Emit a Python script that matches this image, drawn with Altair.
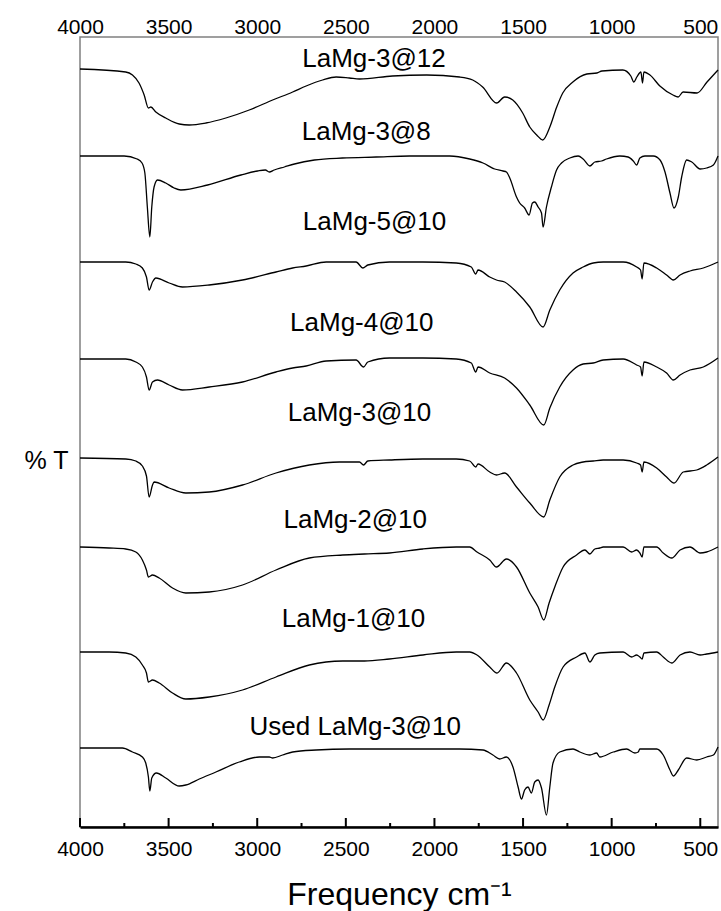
import altair as alt
import pandas as pd

FONT = "Liberation Sans"

# Sample names, top to bottom
sample_names = [
    "LaMg-3@12", "LaMg-3@8", "LaMg-5@10", "LaMg-4@10",
    "LaMg-3@10", "LaMg-2@10", "LaMg-1@10", "Used LaMg-3@10",
]

# Stacked FTIR spectra: wavenumber (cm-1) and transmittance (offset, a.u.)
wn_3_12 = [4000, 3742, 3704, 3667, 3638, 3614, 3600, 3572, 3516, 3440, 3384, 3290, 3177, 3045, 2913,
           2800, 2724, 2631, 2555, 2480, 2423, 2237, 2044, 1858, 1784, 1728, 1649, 1604, 1558, 1502,
           1462, 1423, 1389, 1349, 1310, 1276, 1219, 1140, 1083, 1055, 937, 892, 875, 858, 835,
           826, 818, 784, 728, 654, 625, 597, 518, 462, 400]
t_3_12 = [758, 755, 752, 744, 732, 719, 720, 715, 709, 703, 702, 704, 709, 717, 727,
          735, 741, 747, 750, 749, 748, 751, 752, 750, 747, 740, 724, 730, 727, 714,
          700, 692, 687, 700, 720, 734, 745, 753, 754, 756, 757, 751, 745, 750, 755,
          744, 755, 752, 741, 732, 730, 735, 734, 745, 757]

wn_3_8 = [4000, 3751, 3678, 3650, 3634, 3620, 3606, 3595, 3582, 3563, 3516, 3469, 3431, 3280, 3092,
          2998, 2954, 2932, 2904, 2847, 2790, 2677, 2519, 2329, 2140, 1914, 1801, 1726, 1660, 1613,
          1594, 1575, 1537, 1519, 1491, 1466, 1447, 1434, 1415, 1396, 1387, 1368, 1340, 1311, 1283,
          1236, 1189, 1161, 1123, 1095, 1057, 1029, 954, 907, 878, 859, 841, 812, 765, 727,
          699, 671, 648, 624, 605, 577, 548, 501, 464, 426, 400]
t_3_8 = [671, 671, 668, 664, 654, 620, 590, 620, 640, 647, 644, 639, 637, 642, 652,
         656, 657, 655, 657, 660, 663, 667, 669, 670, 671, 671, 668, 664, 658, 656,
         655, 649, 630, 624, 619, 612, 624, 625, 620, 614, 600, 620, 640, 657, 664,
         669, 671, 668, 661, 665, 666, 668, 671, 670, 666, 662, 669, 671, 671, 667,
         655, 634, 619, 630, 650, 667, 665, 658, 659, 662, 671]

wn_5_10 = [4000, 3742, 3685, 3648, 3625, 3610, 3591, 3572, 3497, 3422, 3271, 3083, 2894, 2800, 2724,
           2611, 2442, 2404, 2376, 2254, 2065, 1877, 1792, 1767, 1754, 1688, 1650, 1604, 1537, 1462,
           1387, 1349, 1293, 1218, 1161, 1104, 1048, 935, 859, 837, 828, 818, 746, 690, 652,
           614, 558, 483, 400]
t_5_10 = [565, 565, 563, 559, 550, 537, 545, 549, 544, 540, 542, 547, 555, 559, 561,
          565, 565, 559, 562, 565, 565, 564, 560, 553, 557, 550, 547, 545, 535, 520,
          500, 517, 537, 554, 560, 564, 565, 565, 560, 557, 548, 564, 559, 552, 547,
          552, 556, 559, 565]

wn_4_10 = [4000, 3742, 3685, 3648, 3625, 3610, 3591, 3563, 3497, 3422, 3271, 3083, 2894, 2800, 2724,
           2611, 2442, 2400, 2376, 2254, 2065, 1877, 1792, 1767, 1754, 1688, 1604, 1537, 1462, 1383,
           1349, 1293, 1218, 1161, 1104, 1048, 935, 859, 837, 828, 818, 746, 690, 652, 614,
           558, 483, 400]
t_4_10 = [468, 468, 465, 460, 450, 437, 445, 447, 442, 437, 440, 445, 455, 459, 461,
          466, 467, 460, 465, 469, 469, 468, 464, 455, 460, 454, 449, 439, 422, 402,
          419, 440, 457, 463, 464, 467, 468, 462, 460, 451, 465, 460, 454, 447, 452,
          457, 460, 469]

wn_3_10 = [4000, 3742, 3685, 3648, 3625, 3610, 3591, 3582, 3497, 3403, 3271, 3083, 2894, 2706, 2536,
           2423, 2400, 2376, 2254, 2065, 1877, 1801, 1767, 1754, 1688, 1650, 1604, 1537, 1462, 1383,
           1349, 1293, 1218, 1161, 1104, 1048, 935, 859, 837, 828, 818, 746, 690, 648, 596,
           520, 464, 400]
t_3_10 = [369, 368, 366, 361, 351, 330, 342, 345, 339, 334, 335, 342, 354, 362, 365,
          365, 362, 366, 367, 368, 368, 366, 360, 363, 355, 352, 354, 340, 324, 310,
          327, 350, 362, 365, 366, 367, 367, 364, 362, 355, 365, 359, 350, 344, 355,
          357, 362, 370]

wn_2_10 = [4000, 3836, 3742, 3685, 3648, 3625, 3614, 3591, 3553, 3478, 3403, 3271, 3083, 2894, 2706,
           2517, 2395, 2254, 2065, 1877, 1801, 1760, 1688, 1650, 1594, 1537, 1462, 1415, 1383, 1353,
           1321, 1274, 1198, 1151, 1123, 1095, 1067, 1048, 935, 887, 859, 841, 828, 818, 746,
           709, 661, 614, 558, 501, 464, 400]
t_2_10 = [280, 279, 278, 275, 267, 257, 250, 252, 249, 239, 234, 235, 242, 257, 269,
          272, 273, 274, 278, 280, 280, 275, 267, 260, 268, 260, 234, 220, 207, 224,
          240, 260, 272, 277, 273, 278, 279, 280, 280, 275, 277, 274, 270, 280, 280,
          274, 269, 277, 280, 274, 275, 280]

wn_1_10 = [4000, 3836, 3742, 3685, 3648, 3625, 3614, 3591, 3553, 3478, 3403, 3271, 3083, 2894, 2706,
           2517, 2395, 2254, 2065, 1877, 1801, 1760, 1688, 1647, 1594, 1537, 1462, 1415, 1387, 1353,
           1321, 1274, 1198, 1151, 1123, 1095, 1067, 935, 887, 859, 841, 828, 818, 746, 709,
           661, 614, 558, 501, 464, 400]
t_1_10 = [175, 175, 174, 170, 162, 154, 145, 147, 144, 134, 128, 130, 137, 150, 162,
          166, 166, 168, 172, 175, 175, 172, 160, 154, 164, 154, 127, 115, 107, 122,
          140, 160, 170, 174, 165, 172, 174, 175, 170, 172, 170, 168, 174, 175, 170,
          164, 172, 175, 172, 173, 175]

wn_used = [4000, 3761, 3704, 3648, 3629, 3614, 3606, 3595, 3569, 3516, 3440, 3403, 3327, 3233, 3101,
           2988, 2932, 2913, 2857, 2800, 2668, 2480, 2235, 2046, 1858, 1726, 1670, 1632, 1594, 1557,
           1528, 1509, 1491, 1472, 1453, 1434, 1415, 1396, 1368, 1349, 1331, 1293, 1218, 1180, 1123,
           1085, 1067, 991, 916, 869, 850, 841, 746, 709, 671, 652, 624, 577, 520, 464,
           426, 400]
t_used = [79, 79, 75, 70, 64, 50, 36, 49, 54, 49, 41, 42, 48, 55, 65,
          70, 70, 69, 72, 75, 77, 78, 78, 78, 78, 77, 72, 68, 70, 60,
          40, 28, 37, 40, 34, 45, 47, 39, 12, 40, 64, 75, 78, 75, 72,
          74, 70, 75, 78, 74, 75, 78, 78, 72, 57, 51, 57, 69, 67, 70,
          72, 80]

spectra_wn = [wn_3_12, wn_3_8, wn_5_10, wn_4_10, wn_3_10, wn_2_10, wn_1_10, wn_used]
spectra_t = [t_3_12, t_3_8, t_5_10, t_4_10, t_3_10, t_2_10, t_1_10, t_used]

# Label anchors (centre wavenumber, baseline transmittance)
label_wn = [2341, 2385, 2338, 2410, 2423, 2447, 2457, 2447]
label_t = [760, 687, 597, 496, 406, 299, 200, 92]

# Axis ticks
major_ticks = [4000, 3500, 3000, 2500, 2000, 1500, 1000, 500]
minor_ticks = [3750, 3250, 2750, 2250, 1750, 1250, 750]

rows = []
for name, wns, ts in zip(sample_names, spectra_wn, spectra_t):
    for w, t in zip(wns, ts):
        rows.append({"sample": name, "wavenumber": w, "T": t})
spectra = pd.DataFrame(rows)
labels_df = pd.DataFrame({"sample": sample_names, "wavenumber": label_wn, "T": label_t})

x_scale = alt.Scale(domain=[4000, 400], nice=False, zero=False)
y_scale = alt.Scale(domain=[0, 790], nice=False, zero=False)

lines = alt.Chart(spectra).mark_line(
    color="black", strokeWidth=1.3, interpolate="monotone"
).encode(
    x=alt.X("wavenumber:Q", scale=x_scale, axis=alt.Axis(
        orient="bottom", values=major_ticks, format="d", ticks=False, grid=False,
        domainColor="black", domainWidth=2.5, labelFont=FONT, labelFontSize=21,
        labelColor="black", labelPadding=11, labelFlush=False, labelOverlap=False,
        title="Frequency cm⁻¹", titleFont=FONT, titleFontSize=32,
        titleFontWeight="normal", titleColor="black", titlePadding=20)),
    y=alt.Y("T:Q", scale=y_scale, axis=alt.Axis(
        labels=False, ticks=False, domain=False, grid=False,
        title="% T", titleFont=FONT, titleFontSize=25, titleFontWeight="normal",
        titleColor="black", titleAngle=0, titleX=-34, titleY=423,
        titleAlign="center", titleBaseline="middle")),
    detail="sample:N",
)

labels = alt.Chart(labels_df).mark_text(
    font=FONT, fontSize=26, align="center", baseline="alphabetic", color="black"
).encode(
    x=alt.X("wavenumber:Q", scale=x_scale, axis=None),
    y=alt.Y("T:Q", scale=y_scale, axis=None),
    text="sample:N",
)

major = alt.Chart(pd.DataFrame({"wavenumber": major_ticks})).mark_rule(
    color="black", strokeWidth=2
).encode(
    x=alt.X("wavenumber:Q", scale=x_scale, axis=alt.Axis(
        orient="top", values=major_ticks, format="d", ticks=False, domain=False,
        grid=False, labelFont=FONT, labelFontSize=21, labelColor="black",
        labelPadding=0, labelFlush=False, labelOverlap=False, title=None)),
    y=alt.value(781),
    y2=alt.value(790),
)

minor = alt.Chart(pd.DataFrame({"wavenumber": minor_ticks})).mark_rule(
    color="black", strokeWidth=2
).encode(
    x=alt.X("wavenumber:Q", scale=x_scale, axis=None),
    y=alt.value(786),
    y2=alt.value(790),
)

chart = alt.layer(lines, labels, major, minor).resolve_axis(
    x="independent", y="independent"
).properties(
    width=638,
    height=790,
    autosize=alt.AutoSizeParams(type="none"),
    padding={"left": 80, "top": 37, "right": 3, "bottom": 84},
    background="white",
).configure_view(
    stroke="#808080", strokeWidth=1.5
)

chart.save("out.html", embed_options={"renderer": "svg", "actions": False})
